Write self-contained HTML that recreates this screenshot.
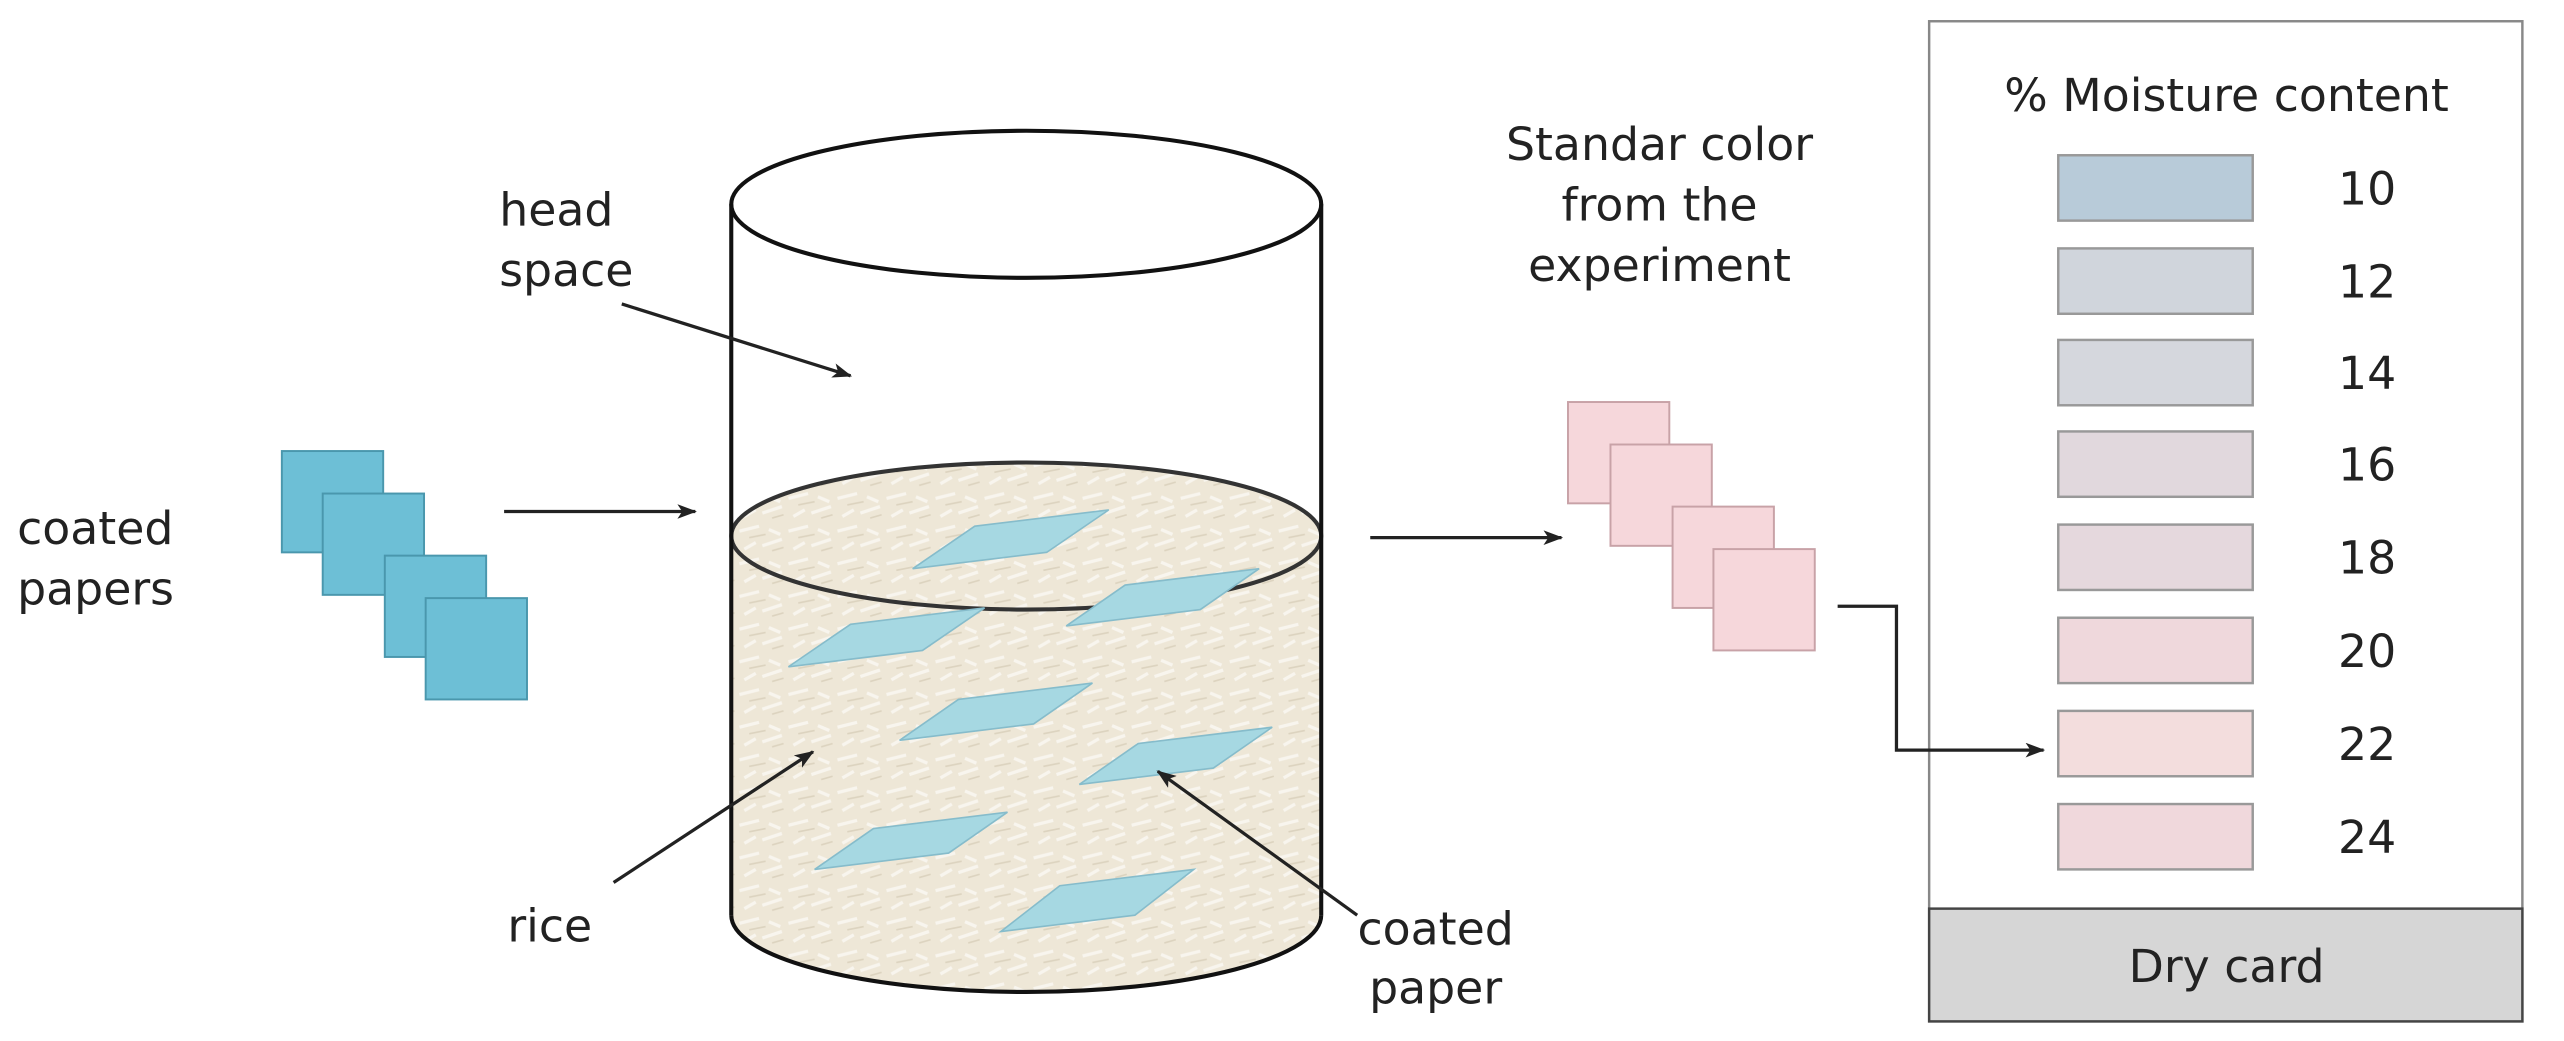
<!DOCTYPE html>
<html><head><meta charset="utf-8"><style>
html,body{margin:0;padding:0;background:#fff;}
svg{display:block;}
text{font-family:"DejaVu Sans","Liberation Sans",sans-serif;fill:#222;}
</style></head><body>
<svg width="2564" height="1041" viewBox="0 0 1568 637" xmlns="http://www.w3.org/2000/svg">
<defs>
<marker id="ah" markerWidth="12" markerHeight="9" refX="11" refY="4.5" orient="auto" markerUnits="userSpaceOnUse">
<path d="M0,0 L12,4.5 L0,9 L3,4.5 Z" fill="#222"/></marker>
<pattern id="rice" width="30" height="20" patternUnits="userSpaceOnUse">
<rect width="30" height="20" fill="#eee7d7"/>
<path d="M2,5 L14,2 M16,14 L28,10 M5,16 L12,12 M20,4 L27,7" stroke="#f8f5ee" stroke-width="2"/>
<path d="M8,9 L18,7 M22,17 L29,15" stroke="#dcd3bf" stroke-width="1"/>
</pattern>
</defs>

<path d="M447,328 A180.5,45 0 0 1 808,328 L808,560 A180.5,47 0 0 1 447,560 Z" fill="url(#rice)"/>
<ellipse cx="627.5" cy="328" rx="180.5" ry="45" fill="none" stroke="#333" stroke-width="2.5"/>

<g fill="#a6d8e2" stroke="#86bccb" stroke-width="1">
<polygon points="558,348 640,338 678,312 596,322"/>
<polygon points="482,408 564,398 602,372 520,382"/>
<polygon points="652,383 734,373 770,348 688,358"/>
<polygon points="550,453 632,443 668,418 586,428"/>
<polygon points="660,480 742,470 778,445 696,455"/>
<polygon points="498,532 580,522 616,497 534,507"/>
<polygon points="612,570 694,560 730,532 648,542"/>
</g>

<ellipse cx="627.5" cy="125" rx="180.5" ry="45" fill="none" stroke="#111" stroke-width="2.5"/>
<line x1="447" y1="125" x2="447" y2="560" stroke="#111" stroke-width="2.5"/>
<line x1="808" y1="125" x2="808" y2="560" stroke="#111" stroke-width="2.5"/>
<path d="M447,560 A180.5,47 0 0 0 808,560" fill="none" stroke="#111" stroke-width="2.5"/>

<g fill="#6dbfd6" stroke="#4a97ad" stroke-width="1.2">
<rect x="172" y="276" width="62" height="62"/>
<rect x="197" y="302" width="62" height="62"/>
<rect x="235" y="340" width="62" height="62"/>
<rect x="260" y="366" width="62" height="62"/>
</g>
<g fill="#f6d7db" stroke="#c8a2a7" stroke-width="1.2">
<rect x="959" y="246" width="62" height="62"/>
<rect x="985" y="272" width="62" height="62"/>
<rect x="1023" y="310" width="62" height="62"/>
<rect x="1048" y="336" width="62" height="62"/>
</g>

<g stroke="#222" stroke-width="2" fill="none" marker-end="url(#ah)">
<line x1="308" y1="313" x2="425" y2="313"/>
<line x1="838" y1="329" x2="955" y2="329"/>
<line x1="380" y1="186" x2="520" y2="230"/>
<line x1="375" y1="540" x2="497" y2="460"/>
<line x1="830" y1="560" x2="708" y2="472"/>
</g>

<g font-size="28">
<text x="305" y="138">head</text>
<text x="305" y="175">space</text>
<text x="10" y="333">coated</text>
<text x="10" y="370">papers</text>
<text x="310" y="576">rice</text>
<text x="878" y="578" text-anchor="middle">coated</text>
<text x="878" y="614" text-anchor="middle">paper</text>
<text x="1015" y="98" text-anchor="middle">Standar color</text>
<text x="1015" y="135" text-anchor="middle">from the</text>
<text x="1015" y="172" text-anchor="middle">experiment</text>
</g>

<rect x="1180" y="13" width="363" height="612" fill="#fff" stroke="#888" stroke-width="1.5"/>
<rect x="1180" y="556" width="363" height="69" fill="#d6d6d6" stroke="#444" stroke-width="1.5"/>
<text x="1362" y="601" font-size="28" text-anchor="middle">Dry card</text>
<text x="1362" y="68" font-size="28" text-anchor="middle">% Moisture content</text>
<g stroke="#999" stroke-width="1.5">
<rect x="1259" y="95" width="119" height="40" fill="#b8cbd9"/>
<rect x="1259" y="152" width="119" height="40" fill="#d0d5dc"/>
<rect x="1259" y="208" width="119" height="40" fill="#d5d7dd"/>
<rect x="1259" y="264" width="119" height="40" fill="#e1d8dd"/>
<rect x="1259" y="321" width="119" height="40" fill="#e5d8dd"/>
<rect x="1259" y="378" width="119" height="40" fill="#efd8dc"/>
<rect x="1259" y="435" width="119" height="40" fill="#f3dddd"/>
<rect x="1259" y="492" width="119" height="40" fill="#f0d8dc"/>
</g>
<g font-size="28" text-anchor="middle">
<text x="1448" y="125">10</text>
<text x="1448" y="182">12</text>
<text x="1448" y="238">14</text>
<text x="1448" y="294">16</text>
<text x="1448" y="351">18</text>
<text x="1448" y="408">20</text>
<text x="1448" y="465">22</text>
<text x="1448" y="522">24</text>
</g>
<polyline points="1124,371 1160,371 1160,459 1250,459" stroke="#222" stroke-width="2" fill="none" marker-end="url(#ah)"/>
</svg>
</body></html>
